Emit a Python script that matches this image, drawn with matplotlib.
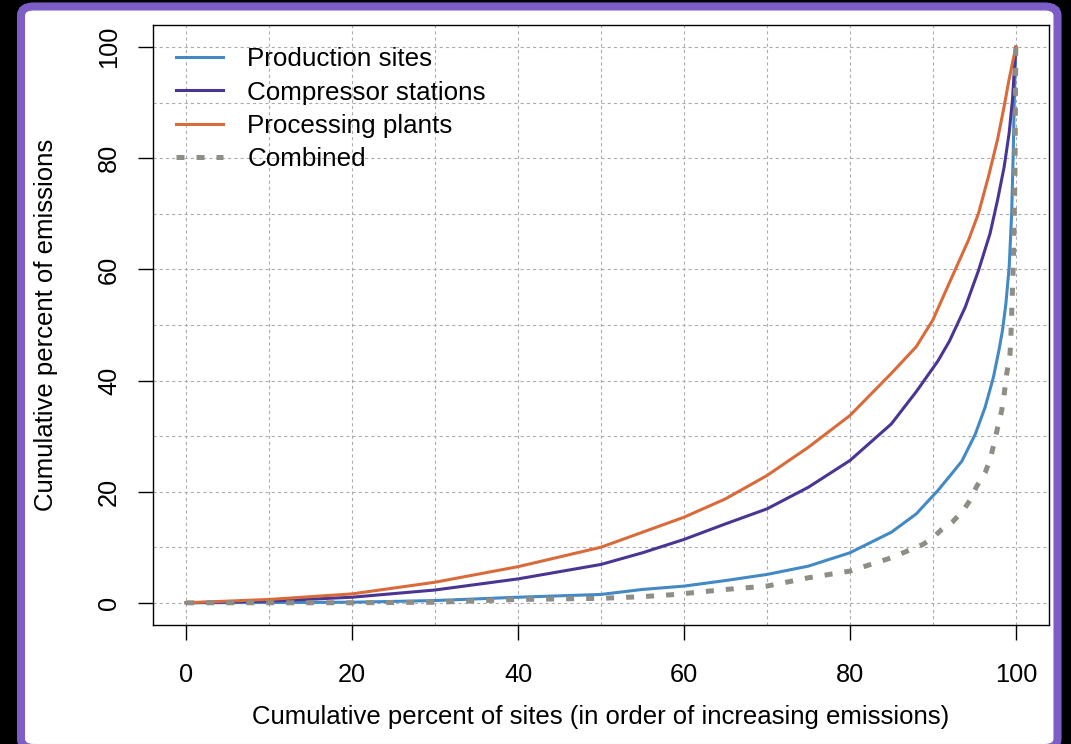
import matplotlib
matplotlib.use("Agg")
import matplotlib.pyplot as plt
from matplotlib.patches import FancyBboxPatch

plt.rcParams['font.family'] = ['Liberation Sans', 'DejaVu Sans']

# cumulative percent of sites -> cumulative percent of emissions
prod_x = [0, 10, 20, 30, 40, 50, 55, 60, 65, 70, 75, 80, 85, 88, 90.6, 92.2, 93.5, 95.1,
          96.3, 97.3, 97.96, 98.4, 98.8, 99.2, 99.5, 99.7, 99.8, 100]
prod_y = [0, 0.05, 0.1, 0.4, 1.0, 1.5, 2.4, 3.0, 4.0, 5.1, 6.6, 9.0, 12.7, 16.0, 20.2, 23.1, 25.5, 30.3,
          35.2, 40.6, 45.4, 49.1, 53.8, 60.4, 70.1, 81.6, 89.4, 100]

comp_x = [0, 10, 20, 30, 40, 50, 55, 60, 65, 70, 75, 80, 85, 88, 90.6, 92.0, 93.9, 95.5,
          96.9, 97.8, 98.6, 99.2, 99.6, 99.8, 100]
comp_y = [0, 0.3, 1.0, 2.3, 4.3, 6.9, 9.0, 11.4, 14.2, 16.9, 20.8, 25.6, 32.2, 38, 43.5, 47.1, 53.2, 59.8,
          66.5, 72.5, 78.5, 84.6, 90.6, 95.5, 100]

proc_x = [0, 5, 10, 20, 30, 40, 50, 55, 60, 65, 70, 75, 80, 85, 88, 90, 92.65, 94.3,
          95.5, 96.7, 97.8, 98.6, 99.2, 99.7, 100]
proc_y = [0, 0.3, 0.6, 1.6, 3.7, 6.5, 10, 12.7, 15.4, 18.7, 22.9, 28.0, 33.7, 41.3, 46.1, 50.9, 59.8, 65.3,
          70.1, 76.7, 83.4, 89.4, 94.3, 97.9, 100]

comb_x = [0, 20, 30, 40, 50, 55, 59, 65, 70, 75, 80, 85, 88.8, 90, 91.0, 92.4, 93.7, 94.5, 95.3,
          96.3, 96.9, 97.4, 97.8, 98.3, 98.6, 98.9, 99.3, 99.4, 99.7, 99.9, 100]
comb_y = [0, 0, 0.1, 0.6, 0.8, 1.1, 1.5, 2.4, 3.0, 4.5, 5.7, 8.1, 10.5, 11.7, 13.1, 14.6, 16.7, 18.5, 21.0,
          23.4, 25.8, 28.8, 31.5, 34.6, 37.6, 41.2, 44.8, 47.6, 61.0, 77.3, 100]

ticks = [0, 20, 40, 60, 80, 100]
grid_pos = [0, 10, 20, 30, 40, 50, 60, 70, 80, 90, 100]

W, H = 1071, 744
fig = plt.figure(figsize=(W / 100, H / 100), dpi=100, facecolor='black')

# purple frame around a white panel
frame = FancyBboxPatch((21 / W, -4 / H), (1057.5 - 21) / W, (H - 2.5) / H,
                       boxstyle="round,pad=0,rounding_size=0.012",
                       transform=fig.transFigure, facecolor='white',
                       edgecolor='#7d5ec6', linewidth=5.8, zorder=-5)
fig.patches.append(frame)

ax = fig.add_axes([153 / W, 1 - 625 / H, (1049 - 153) / W, 600 / H])
ax.set_zorder(2)
ax.set_facecolor('white')
ax.set_xlim(-4, 104)
ax.set_ylim(-4, 104)

for g in grid_pos:
    ax.axvline(g, color='#ababab', lw=0.8, ls=(0, (2.8, 2.8)), zorder=1)
    ax.axhline(g, color='#ababab', lw=0.8, ls=(0, (2.8, 2.8)), zorder=1)

ax.plot(prod_x, prod_y, color='#4389c4', lw=2.2, label='Production sites', zorder=3)
ax.plot(comp_x, comp_y, color='#4a3592', lw=2.2, label='Compressor stations', zorder=3)
ax.plot(proc_x, proc_y, color='#d96b3b', lw=2.2, label='Processing plants', zorder=3)
ax.plot(comb_x, comb_y, color='#8e8e86', lw=3.6, ls=(0, (1.6, 2.4)), label='Combined', zorder=4)

ax.set_xticks(ticks)
ax.set_yticks(ticks)
ax.set_xticklabels([str(t) for t in ticks])
ax.set_yticklabels([str(t) for t in ticks], rotation=90, va='center')
ax.tick_params(axis='both', length=11, width=1.0, labelsize=18.3, direction='out')
ax.tick_params(axis='x', pad=16)
ax.tick_params(axis='y', pad=12)
for s in ax.spines.values():
    s.set_linewidth(1.0)

ax.set_xlabel('Cumulative percent of sites (in order of increasing emissions)', fontsize=18.5)
ax.set_ylabel('Cumulative percent of emissions', fontsize=18.5)
ax.xaxis.set_label_coords(0.5, -0.134)
ax.yaxis.set_label_coords(-0.106, 0.5)

ax.legend(loc='upper left', bbox_to_anchor=(0.0257, 0.963), frameon=False,
          fontsize=18.7, handlelength=1.8, handletextpad=0.95, labelspacing=0.36,
          borderpad=0, borderaxespad=0)

fig.savefig('out.png', dpi=100, facecolor=fig.get_facecolor())
